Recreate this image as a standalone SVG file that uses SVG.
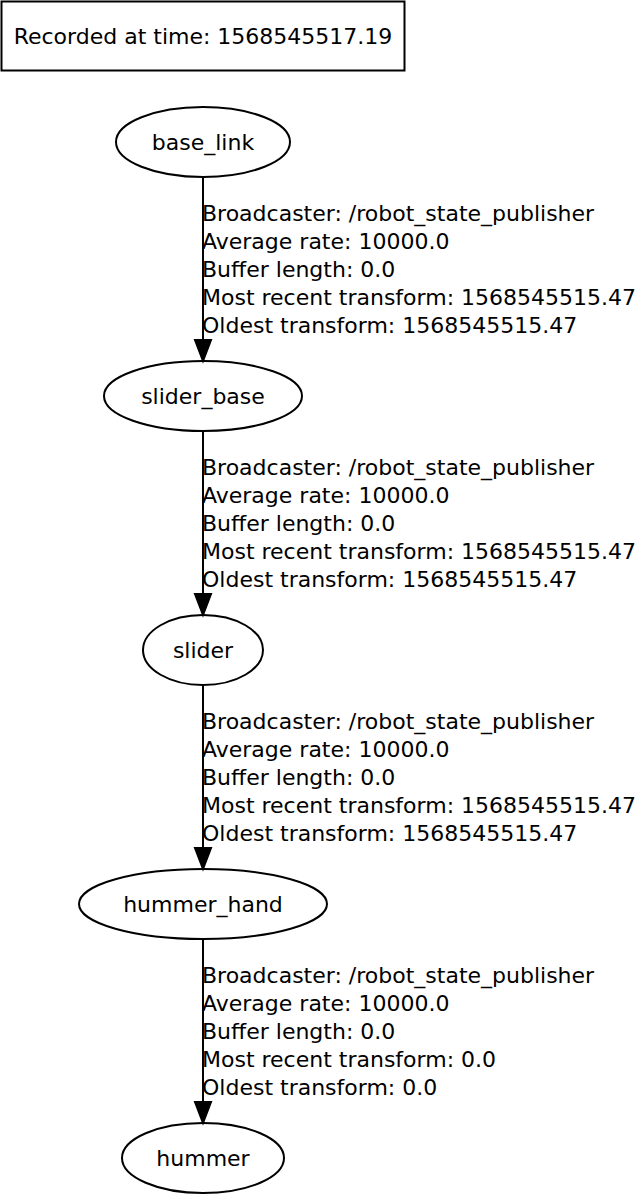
<svg xmlns="http://www.w3.org/2000/svg" width="635" height="1194" viewBox="0 0 635 1194">
<style>
text{font-family:"DejaVu Sans",sans-serif;font-size:22px;fill:#000}
.n ellipse{fill:none;stroke:#000;stroke-width:2}
.n text{text-anchor:middle}
.e line{stroke:#000;stroke-width:2}
.e polygon{fill:#000;stroke:#000;stroke-width:2}
</style>
<rect width="635" height="1194" fill="#fff"/>
<g id="title">
<rect x="1.5" y="1.5" width="403" height="69" fill="none" stroke="#000" stroke-width="2"/>
<text x="203" y="44" text-anchor="middle">Recorded at time: 1568545517.19</text>
</g>
<g id="base_link" class="n"><ellipse cx="203" cy="142" rx="87" ry="35"/><text x="203" y="150">base_link</text></g>
<g id="slider_base" class="n"><ellipse cx="203" cy="396" rx="99" ry="35"/><text x="203" y="404">slider_base</text></g>
<g id="slider" class="n"><ellipse cx="203" cy="650" rx="60" ry="35"/><text x="203" y="658">slider</text></g>
<g id="hummer_hand" class="n"><ellipse cx="203" cy="904" rx="124" ry="35"/><text x="203" y="912">hummer_hand</text></g>
<g id="hummer" class="n"><ellipse cx="203" cy="1158" rx="81" ry="35"/><text x="203" y="1166">hummer</text></g>
<g id="edges" class="e">
<line x1="203" y1="177" x2="203" y2="340"/><polygon points="195,340 211,340 203,361"/>
<line x1="203" y1="431" x2="203" y2="594"/><polygon points="195,594 211,594 203,615"/>
<line x1="203" y1="685" x2="203" y2="848"/><polygon points="195,848 211,848 203,869"/>
<line x1="203" y1="939" x2="203" y2="1102"/><polygon points="195,1102 211,1102 203,1123"/>
</g>
<g id="edge_labels">
<text x="202" y="221">Broadcaster: /robot_state_publisher</text>
<text x="202" y="249">Average rate: 10000.0</text>
<text x="202" y="277">Buffer length: 0.0</text>
<text x="202" y="305">Most recent transform: 1568545515.47</text>
<text x="202" y="333">Oldest transform: 1568545515.47</text>
<text x="202" y="475">Broadcaster: /robot_state_publisher</text>
<text x="202" y="503">Average rate: 10000.0</text>
<text x="202" y="531">Buffer length: 0.0</text>
<text x="202" y="559">Most recent transform: 1568545515.47</text>
<text x="202" y="587">Oldest transform: 1568545515.47</text>
<text x="202" y="729">Broadcaster: /robot_state_publisher</text>
<text x="202" y="757">Average rate: 10000.0</text>
<text x="202" y="785">Buffer length: 0.0</text>
<text x="202" y="813">Most recent transform: 1568545515.47</text>
<text x="202" y="841">Oldest transform: 1568545515.47</text>
<text x="202" y="983">Broadcaster: /robot_state_publisher</text>
<text x="202" y="1011">Average rate: 10000.0</text>
<text x="202" y="1039">Buffer length: 0.0</text>
<text x="202" y="1067">Most recent transform: 0.0</text>
<text x="202" y="1095">Oldest transform: 0.0</text>
</g>
</svg>
